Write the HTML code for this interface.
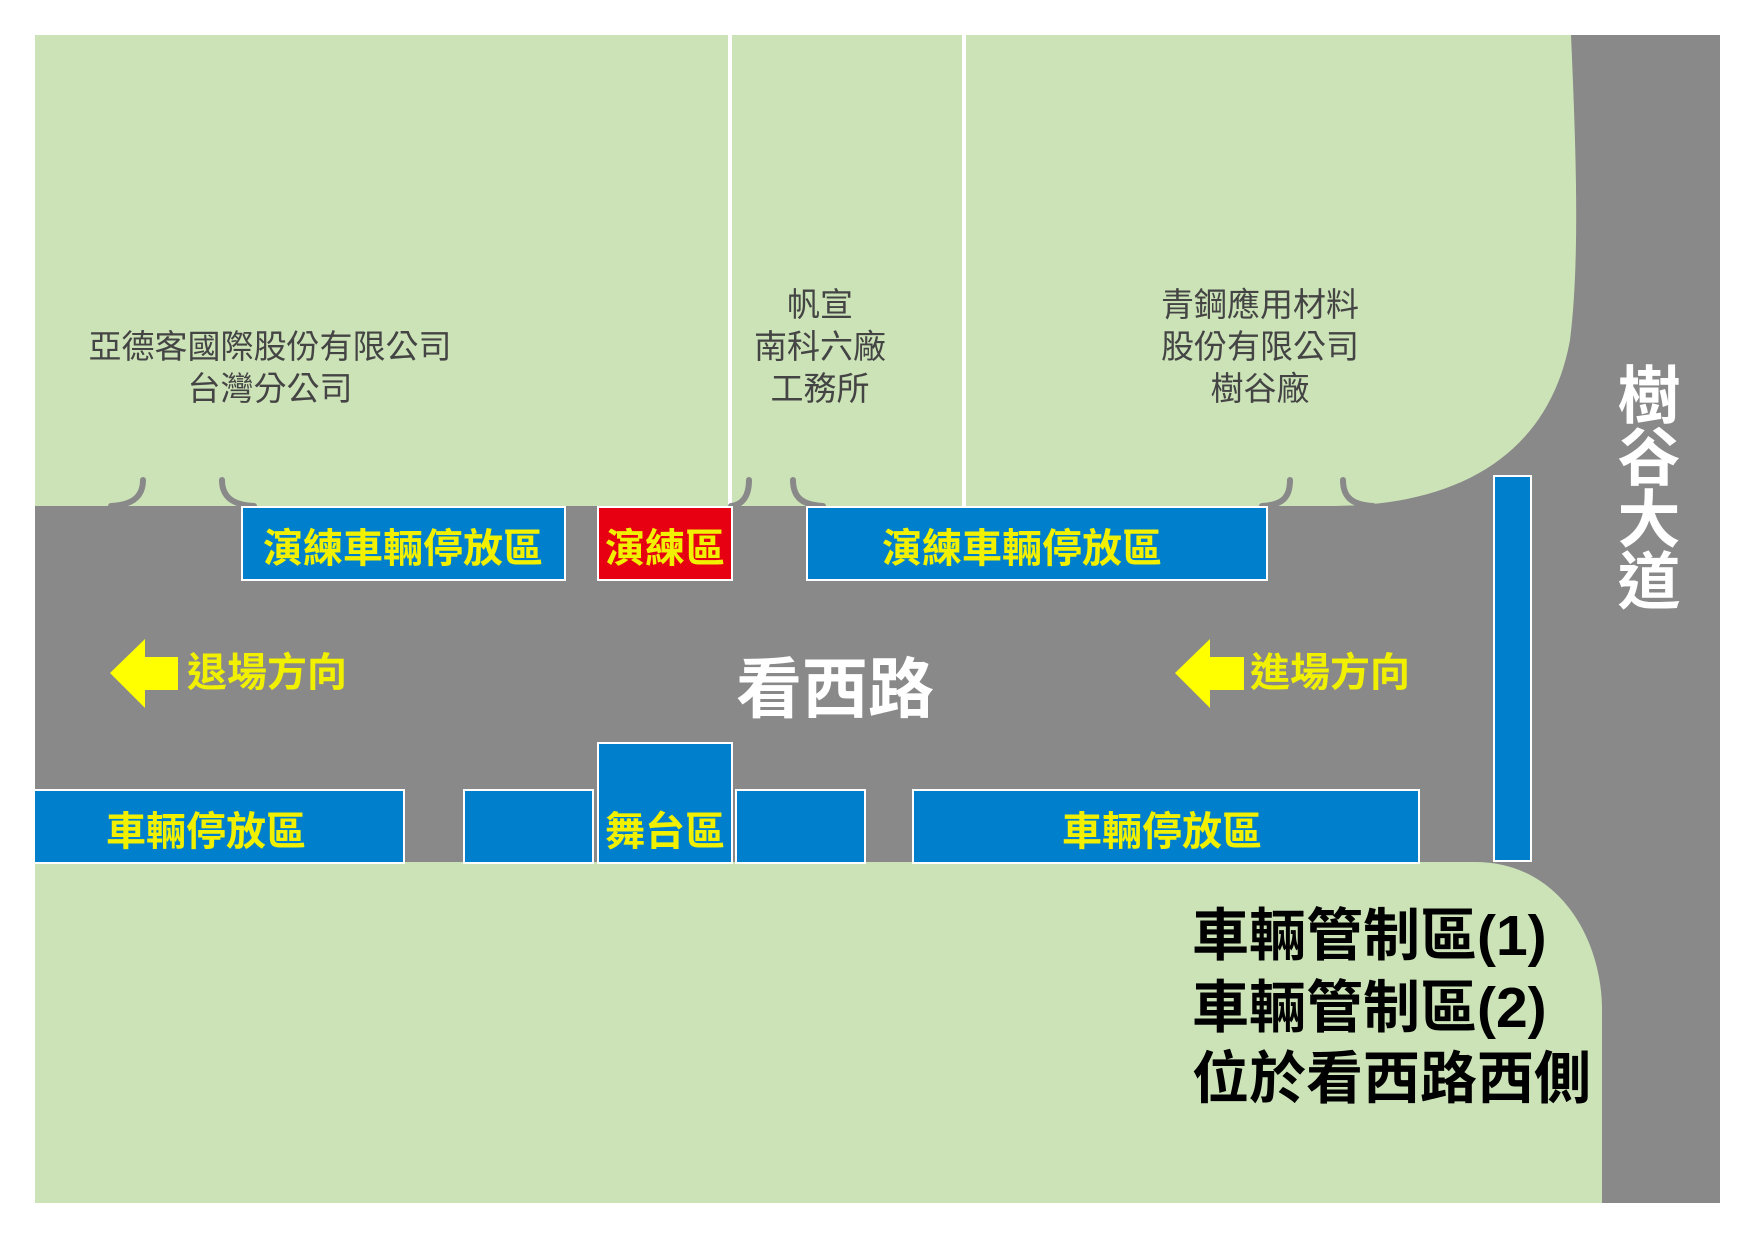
<!DOCTYPE html>
<html><head><meta charset="utf-8"><style>
html,body{margin:0;padding:0;background:#fff;}
svg{display:block;}
text{font-family:"Liberation Sans","Noto Sans CJK TC",sans-serif;}
</style></head><body>
<svg width="1754" height="1240" viewBox="0 0 1754 1240" xmlns="http://www.w3.org/2000/svg">
<rect x="0" y="0" width="1754" height="1240" fill="#fff"/>
<rect x="35" y="35" width="1685" height="1168" fill="#898989"/>
<path d="M35 35 H1571 C1576 150 1580 260 1570 340 C1550 450 1465 505 1335 506 H35 Z" fill="#cce3b8"/>
<path d="M35 862 H1475 C1560 862 1602 940 1602 1010 V1203 H35 Z" fill="#cce3b8"/>
<rect x="728" y="35" width="4" height="471" fill="#fff"/>
<rect x="962" y="35" width="4" height="471" fill="#fff"/>
<g fill="none" stroke="#898989" stroke-width="6" stroke-linecap="round">
<path d="M143 480 C143 498 131 505 111 506"/>
<path d="M222 480 C222 498 234 505 254 506"/>
<path d="M749 480 C749 498 741 505 731 506"/>
<path d="M793 480 C793 498 803 505 823 506"/>
<path d="M1290 480 C1290 498 1282 505 1262 506"/>
<path d="M1343 480 C1343 498 1353 505 1373 506"/>
</g>
<g stroke="#fff" stroke-width="2">
<rect x="242" y="507" width="323" height="73" fill="#0080cc"/>
<rect x="598" y="507" width="134" height="73" fill="#e60012"/>
<rect x="807" y="507" width="460" height="73" fill="#0080cc"/>
<rect x="34" y="790" width="370" height="73" fill="#0080cc"/>
<rect x="464" y="790" width="129" height="73" fill="#0080cc"/>
<rect x="598" y="743" width="134" height="120" fill="#0080cc"/>
<rect x="736" y="790" width="129" height="73" fill="#0080cc"/>
<rect x="913" y="790" width="506" height="73" fill="#0080cc"/>
<rect x="1494" y="476" width="37" height="385" fill="#0080cc"/>
</g>
<g fill="#f0f000" font-weight="bold" font-size="40" text-anchor="middle">
<text x="403" y="562">演練車輛停放區</text>
<text x="665" y="562">演練區</text>
<text x="1022" y="562">演練車輛停放區</text>
<text x="206" y="845">車輛停放區</text>
<text x="665" y="845">舞台區</text>
<text x="1162" y="845">車輛停放區</text>
<text x="267" y="686">退場方向</text>
<text x="1330" y="686">進場方向</text>
</g>
<polygon points="110,673 145,639 145,657 178,657 178,690 145,690 145,708" fill="#ffff00"/>
<polygon points="1175,673 1210,639 1210,657 1244,657 1244,690 1210,690 1210,708" fill="#ffff00"/>
<text x="835" y="712" fill="#fff" font-weight="bold" font-size="66" text-anchor="middle">看西路</text>
<g fill="#fff" font-weight="bold" font-size="63" text-anchor="middle">
<text x="1649" y="418">樹</text>
<text x="1649" y="480">谷</text>
<text x="1649" y="542">大</text>
<text x="1649" y="604">道</text>
</g>
<g fill="#444" font-size="33" text-anchor="middle">
<text x="270" y="358">亞德客國際股份有限公司</text>
<text x="270" y="400">台灣分公司</text>
<text x="820" y="316">帆宣</text>
<text x="820" y="358">南科六廠</text>
<text x="820" y="400">工務所</text>
<text x="1260" y="316">青鋼應用材料</text>
<text x="1260" y="358">股份有限公司</text>
<text x="1260" y="400">樹谷廠</text>
</g>
<g fill="#000" font-weight="bold" font-size="57">
<text x="1192" y="955">車輛管制區(1)</text>
<text x="1192" y="1027">車輛管制區(2)</text>
<text x="1192" y="1098">位於看西路西側</text>
</g>
</svg>
</body></html>
